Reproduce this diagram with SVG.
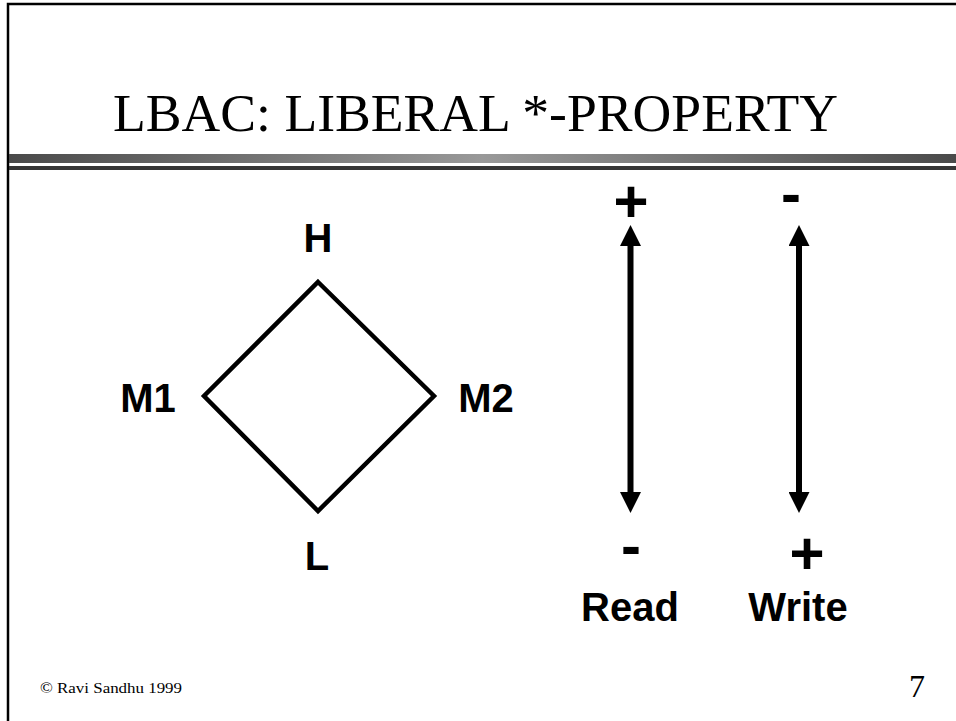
<svg xmlns="http://www.w3.org/2000/svg" width="956" height="721" viewBox="0 0 956 721">
<style>
.title{font-family:"Liberation Serif","Times New Roman",serif;font-size:52px;fill:#000}
.lbl{font-family:"Liberation Sans",Arial,sans-serif;font-weight:bold;font-size:40px;fill:#000;text-anchor:middle}
.sign{font-family:"Liberation Sans",Arial,sans-serif;font-weight:bold;font-size:60px;fill:#000;text-anchor:middle}
.foot{font-family:"Liberation Serif","Times New Roman",serif;fill:#000}
.edge{stroke:#000;stroke-width:4.5;fill:none;stroke-linejoin:miter}
.arr{stroke:#000;stroke-width:6;fill:none;marker-start:url(#ah);marker-end:url(#ah)}
</style>
<defs>
<linearGradient id="bar" x1="0" y1="0" x2="1" y2="0">
<stop offset="0" stop-color="#4a4a4a"/>
<stop offset="0.5" stop-color="#999999"/>
<stop offset="1" stop-color="#4a4a4a"/>
</linearGradient>
<marker id="ah" viewBox="0 0 21 21" markerWidth="21" markerHeight="21" refX="6" refY="10.5" markerUnits="userSpaceOnUse" orient="auto-start-reverse">
<path d="M0,0 L21,10.5 L0,21 z" fill="#000"/>
</marker>
</defs>
<rect x="0" y="0" width="956" height="721" fill="#fff"/>
<g id="frame">
<path d="M8,721 V4 H956" stroke="#000" stroke-width="2.5" fill="none"/>
<rect x="9" y="154" width="947" height="9" fill="url(#bar)"/>
<rect x="9" y="166" width="947" height="4" fill="#363636"/>
</g>
<text class="title" x="113" y="131" textLength="725" lengthAdjust="spacingAndGlyphs">LBAC: LIBERAL *-PROPERTY</text>
<g id="lattice">
<polygon class="edge" points="318,282 434,396 318,511 204,396"/>
</g>
<g id="node-H"><text class="lbl" x="318" y="252">H</text></g>
<g id="node-M1"><text class="lbl" x="148" y="412">M1</text></g>
<g id="node-M2"><text class="lbl" x="486" y="412">M2</text></g>
<g id="node-L"><text class="lbl" x="317" y="570">L</text></g>
<g id="connectors">
<line class="arr" x1="630.5" y1="240" x2="630.5" y2="498"/>
<line class="arr" x1="799" y1="240" x2="799" y2="498"/>
</g>
<g id="read">
<text class="sign" x="631" y="222">+</text>
<text class="sign" x="631" y="566">-</text>
<text class="lbl" x="630" y="621">Read</text>
</g>
<g id="write">
<text class="sign" x="791" y="214">-</text>
<text class="sign" x="807" y="574">+</text>
<text class="lbl" x="798" y="621">Write</text>
</g>
<text class="foot" x="40" y="693" font-size="14" textLength="142" lengthAdjust="spacingAndGlyphs">© Ravi Sandhu 1999</text>
<text class="foot" x="909" y="697" font-size="32">7</text>
</svg>
